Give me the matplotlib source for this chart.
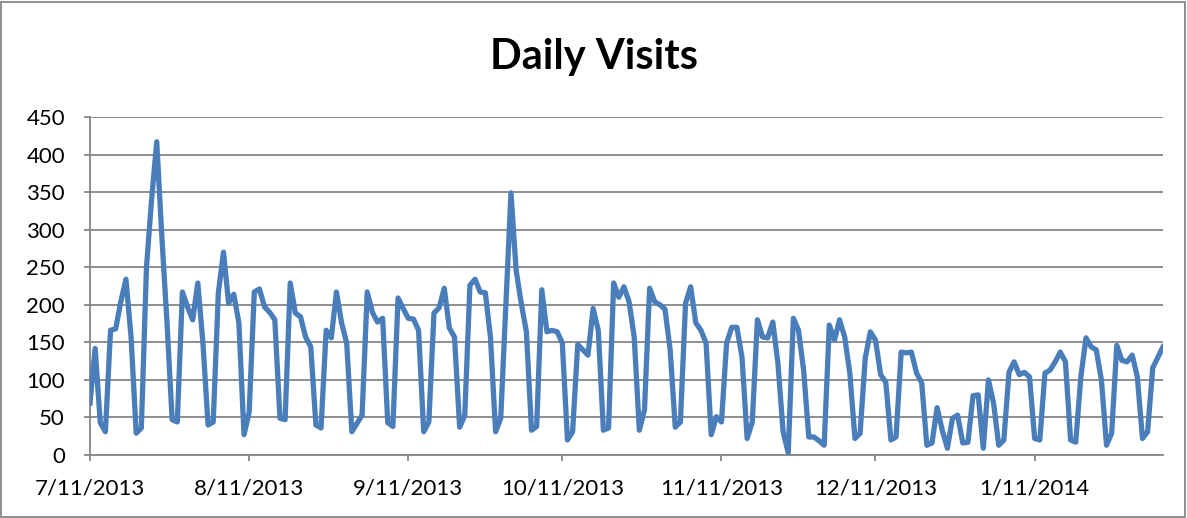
import numpy as np
import pandas as pd
import matplotlib
matplotlib.use("Agg")
import matplotlib.pyplot as plt
import matplotlib.dates as mdates
from matplotlib.patches import Rectangle

# daily visits, one value per day starting 7/11/2013
visits = [
    69, 142, 43, 31, 166, 168, 204, 234, 157, 29,
    36, 250, 340, 417, 290, 176, 47, 44, 217, 197,
    180, 229, 149, 40, 44, 216, 270, 202, 214, 176,
    27, 57, 217, 221, 197, 190, 180, 49, 47, 229,
    189, 184, 157, 144, 40, 36, 166, 156, 217, 176,
    149, 31, 42, 53, 217, 190, 177, 182, 43, 38,
    209, 195, 182, 181, 166, 31, 44, 189, 196, 222,
    169, 157, 37, 53, 226, 234, 217, 216, 157, 31,
    49, 200, 349, 246, 202, 164, 33, 38, 220, 164,
    166, 164, 149, 20, 31, 147, 140, 133, 195, 166,
    33, 36, 229, 210, 224, 204, 157, 33, 60, 222,
    204, 200, 194, 140, 37, 44, 202, 224, 176, 166,
    149, 27, 51, 44, 149, 170, 170, 130, 22, 44,
    180, 157, 156, 177, 122, 31, 3, 182, 166, 113,
    24, 24, 19, 13, 173, 153, 180, 157, 109, 22,
    29, 129, 164, 153, 107, 97, 20, 24, 137, 136,
    137, 109, 96, 13, 16, 63, 33, 9, 49, 53,
    16, 17, 79, 80, 9, 100, 69, 13, 20, 110,
    124, 107, 110, 104, 22, 20, 109, 113, 124, 137,
    124, 20, 17, 104, 156, 144, 140, 100, 13, 29,
    146, 126, 124, 133, 104, 22, 31, 116, 130, 144,
]
start_date = "2013-07-11"
tick_dates = ["2013-07-11", "2013-08-11", "2013-09-11", "2013-10-11",
              "2013-11-11", "2013-12-11", "2014-01-11"]
y_ticks = [0, 50, 100, 150, 200, 250, 300, 350, 400, 450]

dates = pd.date_range(start_date, periods=len(visits), freq="D")

plt.rcParams["font.family"] = ["Lato", "DejaVu Sans"]

fig = plt.figure(figsize=(11.87, 5.18), dpi=100)
ax = fig.add_axes([90 / 1187, 1 - 455 / 518, (1163 - 90) / 1187, (455 - 117) / 518])

ax.plot(dates, visits, color="#4a7ebb", lw=3.8, solid_joinstyle="round", zorder=3)

ax.set_xlim(dates[0], dates[-1])
ax.set_ylim(0, 450)
ax.set_yticks(y_ticks)
ax.set_xticks(pd.to_datetime(tick_dates))
ax.xaxis.set_major_formatter(
    plt.FuncFormatter(lambda v, p: "{0.month}/{0.day}/{0.year}".format(mdates.num2date(v)))
)
ax.grid(axis="y", color="#868686", lw=1.3, zorder=1)
for s in ["top", "right"]:
    ax.spines[s].set_visible(False)
for s in ["left", "bottom"]:
    ax.spines[s].set_color("#868686")
    ax.spines[s].set_linewidth(1.3)
ax.tick_params(axis="both", colors="#868686", labelcolor="black", labelsize=16,
               length=4, width=1.3)
ax.tick_params(axis="x", pad=13)
ax.tick_params(axis="y", pad=14)

fig.text(0.5, 1 - 57 / 518, "Daily Visits", ha="center", va="center",
         fontsize=30, fontweight="bold")

fig.patches.append(Rectangle((0.001, 0.002), 0.997, 0.995, transform=fig.transFigure,
                             fill=False, edgecolor="#868686", lw=1.3))

fig.savefig("out.png", dpi=100)
